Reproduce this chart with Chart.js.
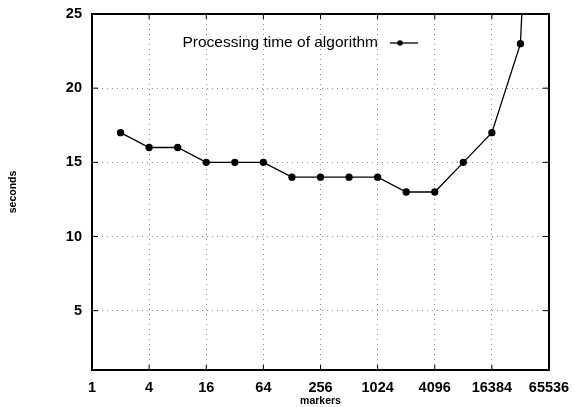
<!DOCTYPE html>
<html>
<head>
<meta charset="utf-8">
<script src="https://cdn.jsdelivr.net/npm/chart.js@4/dist/chart.umd.min.js"></script>
<style>
  html, body { margin: 0; padding: 0; background: #fff; }
  #wrap { width: 575px; height: 407px; position: relative; }
</style>
</head>
<body>
<div id="wrap"><canvas id="timeChart"></canvas></div>
<script>
// data
const markerCounts = [2, 4, 8, 16, 32, 64, 128, 256, 512, 1024, 2048, 4096, 8192, 16384, 32768, 65536];
const seconds = [17, 16, 16, 15, 15, 15, 14, 14, 14, 14, 13, 13, 15, 17, 23, 65];
const xTicks = [1, 4, 16, 64, 256, 1024, 4096, 16384, 65536];
const yTicks = [5, 10, 15, 20, 25];
const seriesLabel = 'Processing time of algorithm';

Chart.defaults.font.family = "'Liberation Sans', Arial, sans-serif";
Chart.defaults.color = '#000';

// frame + inward tick marks like gnuplot
const framePlugin = {
    id: 'frame',
    afterDraw(chart) {
        const { ctx, chartArea: a, scales } = chart;
        ctx.save();
        ctx.strokeStyle = '#000';
        ctx.lineWidth = 1;
        scales.x.ticks.forEach(t => {
            const px = scales.x.getPixelForValue(t.value);
            ctx.beginPath();
            ctx.moveTo(px, a.bottom); ctx.lineTo(px, a.bottom - 5);
            ctx.moveTo(px, a.top); ctx.lineTo(px, a.top + 5);
            ctx.stroke();
        });
        scales.y.ticks.forEach(t => {
            const py = scales.y.getPixelForValue(t.value);
            ctx.beginPath();
            ctx.moveTo(a.left, py); ctx.lineTo(a.left + 6, py);
            ctx.moveTo(a.right, py); ctx.lineTo(a.right - 6, py);
            ctx.stroke();
        });
        ctx.lineWidth = 2;
        ctx.strokeRect(a.left, a.top, a.right - a.left, a.bottom - a.top);
        ctx.restore();
    }
};

// key inside plot, sample to the right of the text
const keyPlugin = {
    id: 'key',
    afterDraw(chart) {
        const { ctx } = chart;
        const y = 43;
        ctx.save();
        ctx.font = "15.5px 'Liberation Sans', Arial, sans-serif";
        ctx.fillStyle = '#000';
        ctx.textAlign = 'right';
        ctx.textBaseline = 'middle';
        ctx.fillText(seriesLabel, 378, y);
        ctx.strokeStyle = '#000';
        ctx.lineWidth = 1.3;
        ctx.beginPath();
        ctx.moveTo(390, y); ctx.lineTo(418, y);
        ctx.stroke();
        ctx.beginPath();
        ctx.arc(400, y, 2.8, 0, Math.PI * 2);
        ctx.fill();
        ctx.restore();
    }
};

const gridStyle = { color: '#8a8a8a', lineWidth: 1, drawTicks: false };

new Chart(document.getElementById('timeChart'), {
    type: 'line',
    data: {
        labels: markerCounts,
        datasets: [{
            label: seriesLabel,
            data: markerCounts.map((m, i) => ({ x: m, y: seconds[i] })),
            borderColor: '#000',
            backgroundColor: '#000',
            borderWidth: 1.3,
            pointRadius: 3,
            pointBackgroundColor: '#000',
            tension: 0
        }]
    },
    options: {
        responsive: true,
        maintainAspectRatio: false,
        animation: false,
        layout: { padding: { top: 14, right: 26, left: 0, bottom: 0 } },
        plugins: { legend: { display: false }, tooltip: { enabled: false } },
        scales: {
            x: {
                type: 'logarithmic',
                min: 1,
                max: 65536,
                afterBuildTicks: s => { s.ticks = xTicks.map(v => ({ value: v })); },
                afterFit: s => { s.height = 37; s.paddingLeft = 0; s.paddingRight = 0; },
                grid: gridStyle,
                border: { display: false, dash: [1, 4] },
                ticks: {
                    autoSkip: false,
                    maxRotation: 0,
                    padding: 9,
                    font: { size: 14.5, weight: 'bold' },
                    callback: v => String(v)
                },
                title: {
                    display: true,
                    text: 'markers',
                    padding: { top: 0, bottom: 0 },
                    font: { size: 10.5, weight: 'bold' }
                }
            },
            y: {
                min: 1,
                max: 25,
                afterBuildTicks: s => { s.ticks = yTicks.map(v => ({ value: v })); },
                afterFit: s => { s.width = 92; s.paddingTop = 0; s.paddingBottom = 0; },
                grid: gridStyle,
                border: { display: false, dash: [1, 4] },
                ticks: {
                    padding: 10,
                    font: { size: 14.5, weight: 'bold' }
                },
                title: {
                    display: true,
                    text: 'seconds',
                    padding: { top: 7, bottom: 0 },
                    font: { size: 10.5, weight: 'bold' }
                }
            }
        }
    },
    plugins: [framePlugin, keyPlugin]
});
</script>
</body>
</html>
